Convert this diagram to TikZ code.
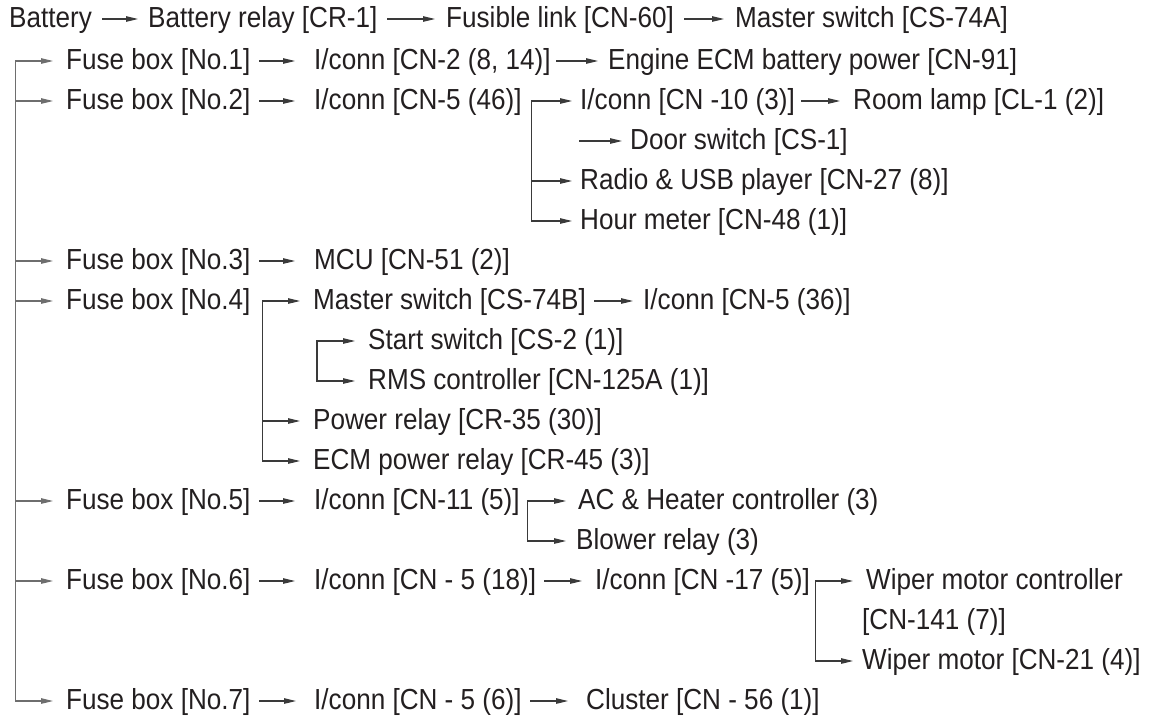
\documentclass[tikz,border=0pt]{standalone}
\usepackage{fontspec}
\setmainfont{Liberation Sans}[FakeStretch=0.9]
\usetikzlibrary{arrows.meta}
\definecolor{txt}{HTML}{231F20}
\definecolor{ln}{HTML}{3A3A3A}
\definecolor{trunkc}{HTML}{6E6E6E}
\newcommand{\arrw}[4]{\draw[conn] ([xshift=#3pt]#1.east) -- ([xshift=-#4pt]#2.west);}
\begin{document}
\begin{tikzpicture}[x=1pt,y=-1pt,
  lbl/.style={anchor=west, inner sep=0pt, text height=21pt, text depth=4pt, text=txt, font=\fontsize{29}{33}\selectfont},
  conn/.style={draw=ln, line width=1.1pt, line cap=rect, -{Triangle[length=12pt,width=5.5pt]}},
  wire/.style={draw=ln, line width=1.1pt, line cap=rect},
  trunkconn/.style={conn, draw=trunkc},
  trunkwire/.style={wire, draw=trunkc},
]
\useasboundingbox[fill=white] (0,0) rectangle (1153,718);

% row 0
\node[lbl] (bat)  at (9,19)   {Battery};
\node[lbl] (rel)  at (148,19) {Battery relay [CR-1]};
\node[lbl] (fus)  at (446,19) {Fusible link [CN-60]};
\node[lbl] (msA)  at (735,19) {Master switch [CS-74A]};
% fuse 1
\node[lbl] (f1)   at (66,61)  {Fuse box [No.1]};
\node[lbl] (c2)   at (314,61) {I/conn [CN-2 (8, 14)]};
\node[lbl] (ecm)  at (608,61) {Engine ECM battery power [CN-91]};
% fuse 2
\node[lbl] (f2)   at (66,101)  {Fuse box [No.2]};
\node[lbl] (c5a)  at (314,101) {I/conn [CN-5 (46)]};
\node[lbl] (c10)  at (580,101) {I/conn [CN -10 (3)]};
\node[lbl] (lamp) at (853,101) {Room lamp [CL-1 (2)]};
\node[lbl] (door) at (630,141) {Door switch [CS-1]};
\node[lbl] (radio) at (580,181) {Radio \& USB player [CN-27 (8)]};
\node[lbl] (hour) at (580,221) {Hour meter [CN-48 (1)]};
% fuse 3
\node[lbl] (f3)   at (66,261)  {Fuse box [No.3]};
\node[lbl] (mcu)  at (314,261) {MCU [CN-51 (2)]};
% fuse 4
\node[lbl] (f4)   at (66,301)  {Fuse box [No.4]};
\node[lbl] (msB)  at (313,301) {Master switch [CS-74B]};
\node[lbl] (c5b)  at (643,301) {I/conn [CN-5 (36)]};
\node[lbl] (start) at (368,341) {Start switch [CS-2 (1)]};
\node[lbl] (rms)  at (368,381) {RMS controller [CN-125A (1)]};
\node[lbl] (prel) at (313,421) {Power relay [CR-35 (30)]};
\node[lbl] (erel) at (313,461) {ECM power relay [CR-45 (3)]};
% fuse 5
\node[lbl] (f5)   at (66,501)  {Fuse box [No.5]};
\node[lbl] (c11)  at (314,501) {I/conn [CN-11 (5)]};
\node[lbl] (ac)   at (578,501) {AC \& Heater controller (3)};
\node[lbl] (blow) at (576,541) {Blower relay (3)};
% fuse 6
\node[lbl] (f6)   at (66,581)  {Fuse box [No.6]};
\node[lbl] (c5c)  at (314,581) {I/conn [CN - 5 (18)]};
\node[lbl] (c17)  at (595,581) {I/conn [CN -17 (5)]};
\node[lbl] (wmc)  at (866,581) {Wiper motor controller};
\node[lbl] (wmc2) at (862,621) {[CN-141 (7)]};
\node[lbl] (wm)   at (862,661) {Wiper motor [CN-21 (4)]};
% fuse 7
\node[lbl] (f7)   at (66,701)  {Fuse box [No.7]};
\node[lbl] (c5d)  at (314,701) {I/conn [CN - 5 (6)]};
\node[lbl] (clu)  at (586,701) {Cluster [CN - 56 (1)]};

% straight arrows
\arrw{bat}{rel}{10.5}{10}
\arrw{rel}{fus}{10}{11}
\arrw{fus}{msA}{10}{11}
\arrw{f1}{c2}{9}{19}
\arrw{c2}{ecm}{6}{10}
\arrw{f2}{c5a}{9}{19}
\arrw{c10}{lamp}{6}{13}
\arrw{f3}{mcu}{9}{19}
\arrw{msB}{c5b}{8}{10}
\arrw{f5}{c11}{9}{19}
\arrw{f6}{c5c}{9}{19}
\arrw{c5c}{c17}{8}{13}
\arrw{f7}{c5d}{9}{18}
\arrw{c5d}{clu}{9}{18}

% trunk from the master switch output to the fuse boxes
\coordinate (tr) at ([xshift=-50.5pt]f1.west);
\draw[trunkwire] (tr) -- (tr |- f7.west);
\foreach \f in {f1,f2,f3,f4,f5,f6,f7}
  \draw[trunkconn] (tr |- \f.west) -- ([xshift=-13pt]\f.west);

% branch after I/conn [CN-5 (46)]
\coordinate (b2) at ([xshift=10pt]c5a.east);
\draw[wire] (b2) -- (b2 |- hour.west);
\draw[conn] (b2) -- ([xshift=-8pt]c10.west);
\draw[conn] (b2 |- radio.west) -- ([xshift=-8pt]radio.west);
\draw[conn] (b2 |- hour.west) -- ([xshift=-8pt]hour.west);
\coordinate (dr) at (c10.west |- door.west);
\draw[conn] (dr) -- ([xshift=-8pt]door.west);

% branch after Fuse box [No.4]
\coordinate (b4) at ([xshift=11.5pt]f4.east);
\draw[wire] (b4) -- (b4 |- erel.west);
\draw[conn] (b4) -- ([xshift=-13pt]msB.west);
\draw[conn] (b4 |- prel.west) -- ([xshift=-13pt]prel.west);
\draw[conn] (b4 |- erel.west) -- ([xshift=-13pt]erel.west);
\coordinate (b8) at ([xshift=-51pt]start.west);
\draw[wire] (b8) -- (b8 |- rms.west);
\draw[conn] (b8) -- ([xshift=-13pt]start.west);
\draw[conn] (b8 |- rms.west) -- ([xshift=-13pt]rms.west);

% branch after I/conn [CN-11 (5)]
\coordinate (b5) at ([xshift=7.5pt]c11.east);
\draw[wire] (b5) -- (b5 |- blow.west);
\draw[conn] (b5) -- ([xshift=-12pt]ac.west);
\draw[conn] (b5 |- blow.west) -- ([xshift=-10pt]blow.west);

% branch after I/conn [CN -17 (5)]
\coordinate (b6) at ([xshift=5pt]c17.east);
\draw[wire] (b6) -- (b6 |- wm.west);
\draw[conn] (b6) -- ([xshift=-13pt]wmc.west);
\draw[conn] (b6 |- wm.west) -- ([xshift=-9pt]wm.west);
\end{tikzpicture}
\end{document}
